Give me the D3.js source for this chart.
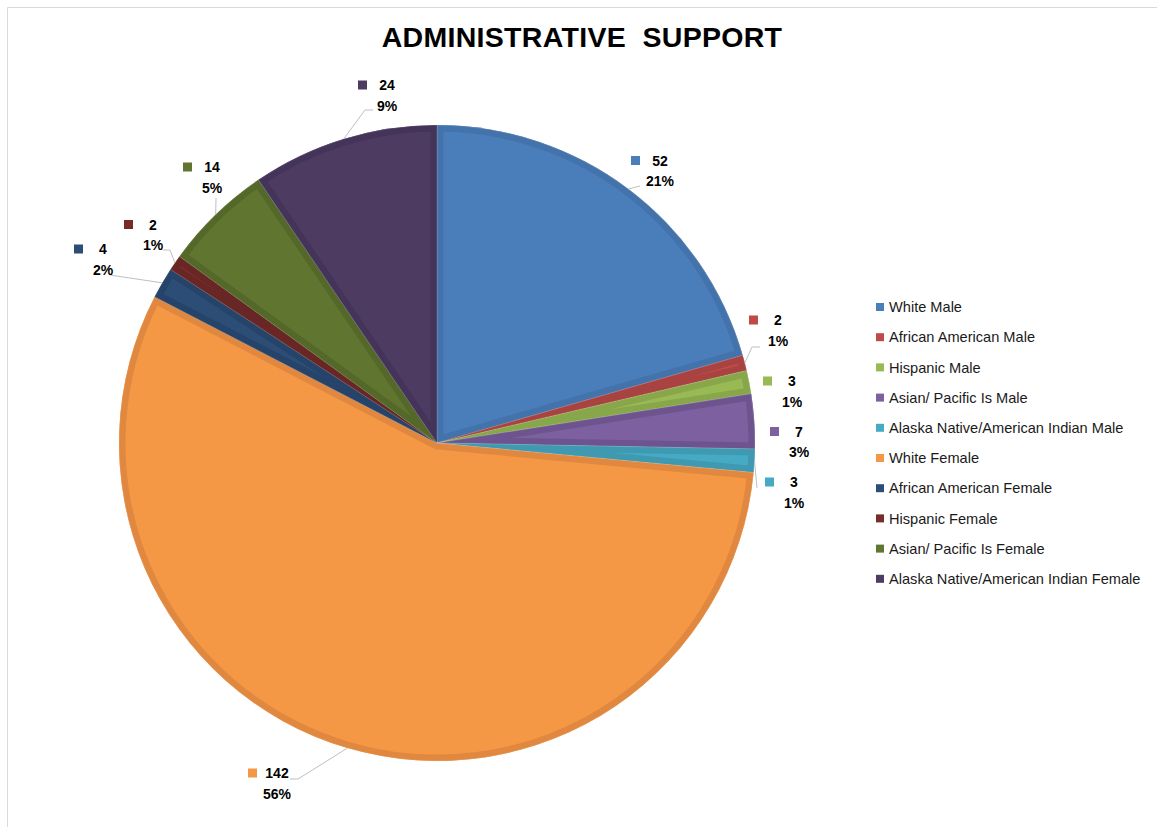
<!DOCTYPE html>
<html>
<head>
<meta charset="utf-8">
<script src="https://cdn.jsdelivr.net/npm/d3@7/dist/d3.min.js"></script>
<style>
  html, body { margin: 0; padding: 0; background: #fff; }
  svg { display: block; }
</style>
</head>
<body>
<svg id="chart" width="1157" height="827"></svg>
<script>
// Staff counts by group, administrative support
const categories = [
  "White Male", "African American Male", "Hispanic Male", "Asian/ Pacific Is Male",
  "Alaska Native/American Indian Male", "White Female", "African American Female",
  "Hispanic Female", "Asian/ Pacific Is Female", "Alaska Native/American Indian Female"
];
const counts = [52, 2, 3, 7, 3, 142, 4, 2, 14, 24];
const percentLabels = ["21%", "1%", "1%", "3%", "1%", "56%", "2%", "1%", "5%", "9%"];

// Slice fills and the darker inner rim of each slice
const fills = ["#4A7EBB", "#BE4B48", "#98B954", "#7D60A0", "#46AAC5",
               "#F49846", "#2C4D75", "#772C2A", "#5F7530", "#4D3B62"];
const rims  = ["#4472AA", "#A94341", "#88A74A", "#6E548E", "#3E99B1",
               "#E0883F", "#26446A", "#682624", "#536829", "#44345A"];

// Label block centres (offset from pie centre) and leader end offsets [dx, dy, stub]
const labelOffsets = [[223, -272], [341, -112.5], [355, -51.5], [362, -1], [357, 49.5],
                      [-160, 340.5], [-334, -183.5], [-284, -208], [-225, -265.5], [-50, -347.5]];
const leaderEnds = [[-20, 15, 0], [-18, 16.5, -8], null, null, [-37, -4.5, 0],
                    [13, -4.5, 8], [7, 15.5, 0], [10, 15, 7], [4, 20.5, 0], [-14, 14.5, -8]];

const svg = d3.select("#chart");
const W = 1157, H = 827;
const cx = 437, cy = 443, R = 318;

// outer frame
svg.append("path")
  .attr("d", `M7.5,${H + 5} L7.5,7.5 L${W + 5},7.5`)
  .attr("fill", "none").attr("stroke", "#D9D9D9").attr("stroke-width", 1);

// title
svg.append("text")
  .attr("x", 582).attr("y", 47)
  .attr("text-anchor", "middle")
  .style("white-space", "pre")
  .attr("font-family", "Liberation Sans, Arial, sans-serif")
  .attr("font-weight", "bold").attr("font-size", 28.5)
  .attr("letter-spacing", 0.3)
  .attr("fill", "#000")
  .text("ADMINISTRATIVE  SUPPORT");

const pie = d3.pie().sort(null).value(d => d)(counts);
const arc = d3.arc().innerRadius(0).outerRadius(R);

const g = svg.append("g").attr("transform", `translate(${cx},${cy})`);
const defs = svg.append("defs");

pie.forEach((p, i) => {
  const id = "slice-clip-" + i;
  defs.append("clipPath").attr("id", id)
    .append("path").attr("d", arc(p));
  const sg = g.append("g");
  sg.append("path").attr("d", arc(p)).attr("fill", fills[i]);
  // inner rim: stroke the slice outline, keep only the inside half
  sg.append("path").attr("d", arc(p))
    .attr("fill", "none")
    .attr("stroke", rims[i]).attr("stroke-width", 13)
    .attr("stroke-linejoin", "miter")
    .attr("clip-path", `url(#${id})`);
  // fine light seam on slice edges
  sg.append("path").attr("d", arc(p))
    .attr("fill", "none").attr("stroke", "rgba(255,255,255,0.25)").attr("stroke-width", 0.6);
});

// leader lines from the slice's outer midpoint to its label
const leaderG = svg.append("g");
pie.forEach((p, i) => {
  const le = leaderEnds[i];
  if (!le) return;
  const mid = (p.startAngle + p.endAngle) / 2;
  const px = cx + R * Math.sin(mid), py = cy - R * Math.cos(mid);
  const lx = cx + labelOffsets[i][0], ly = cy + labelOffsets[i][1];
  const ex = lx + le[0], ey = ly + le[1];
  const pts = le[2] ? [[px, py], [ex + le[2], ey], [ex, ey]] : [[px, py], [ex, ey]];
  leaderG.append("path")
    .attr("d", d3.line()(pts))
    .attr("fill", "none").attr("stroke", "#BFBFBF").attr("stroke-width", 1);
});

// data labels: key square, value, percentage
const labelG = svg.append("g")
  .attr("font-family", "Liberation Sans, Arial, sans-serif")
  .attr("font-weight", "bold").attr("font-size", 14).attr("fill", "#000");
pie.forEach((p, i) => {
  const lx = cx + labelOffsets[i][0], ly = cy + labelOffsets[i][1];
  const y1 = ly - 10, y2 = ly + 10.5;
  labelG.append("rect")
    .attr("x", lx - 29).attr("y", y1 - 5).attr("width", 9).attr("height", 9)
    .attr("fill", fills[i]);
  labelG.append("text")
    .attr("x", lx).attr("y", y1).attr("dy", "0.35em")
    .attr("text-anchor", "middle").text(counts[i]);
  labelG.append("text")
    .attr("x", lx).attr("y", y2).attr("dy", "0.35em")
    .attr("text-anchor", "middle").text(percentLabels[i]);
});

// legend
const legend = svg.append("g")
  .attr("font-family", "Liberation Sans, Arial, sans-serif")
  .attr("font-size", 14.6).attr("fill", "#1a1a1a");
categories.forEach((c, i) => {
  const y = 307 + i * 30.2;
  legend.append("rect")
    .attr("x", 876).attr("y", y - 4).attr("width", 8).attr("height", 8)
    .attr("fill", fills[i]);
  legend.append("text")
    .attr("x", 889).attr("y", y).attr("dy", "0.35em").text(c);
});
</script>
</body>
</html>
